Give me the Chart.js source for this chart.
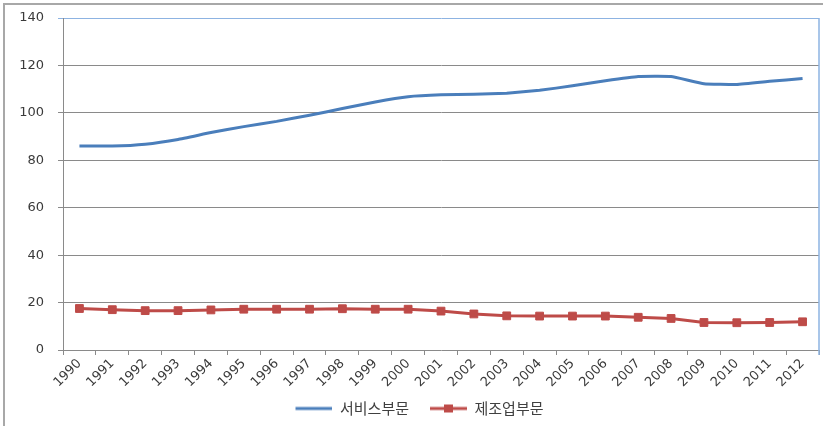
<!DOCTYPE html>
<html lang="ko">
<head>
<meta charset="utf-8">
<title>서비스부문 · 제조업부문</title>
<script src="https://cdn.jsdelivr.net/npm/chart.js@4/dist/chart.umd.min.js"></script>
<style>
  html, body { margin: 0; padding: 0; background: #ffffff; }
  #wrap { width: 832px; height: 426px; position: relative; }
</style>
</head>
<body>
<div id="wrap"><canvas id="chart" width="832" height="426"></canvas></div>
<script>
// Years on the horizontal axis
const years = ['1990', '1991', '1992', '1993', '1994', '1995', '1996', '1997', '1998', '1999', '2000',
               '2001', '2002', '2003', '2004', '2005', '2006', '2007', '2008', '2009', '2010', '2011', '2012'];

// Service sector
const serviceValues = [86, 86, 86.8, 88.8, 91.7, 94.2, 96.4, 99, 101.8, 104.6, 106.8,
                       107.6, 107.8, 108.3, 109.5, 111.4, 113.5, 115.3, 115.3, 112.3, 112, 113.3, 114.5];

// Manufacturing sector
const manufacturingValues = [17.5, 17, 16.6, 16.6, 16.9, 17.2, 17.2, 17.2, 17.4, 17.2, 17.2,
                             16.4, 15.2, 14.4, 14.3, 14.3, 14.3, 13.8, 13.3, 11.6, 11.5, 11.6, 11.9];

const seriesNames = ['서비스부문', '제조업부문'];
const yTicks = [0, 20, 40, 60, 80, 100, 120, 140];

const BLUE = '#4a7ebb';
const RED = '#be4b48';
const GRID = '#8a8a8a';
const TICK_FONT = { family: '"DejaVu Sans", Verdana, sans-serif', size: 13 };

// Small legend samples: a plain line, and a line with a square marker
function legendSample(color, withSquare) {
  const c = document.createElement('canvas');
  c.width = 52; c.height = 12;
  const g = c.getContext('2d');
  g.strokeStyle = color;
  g.lineWidth = 3;
  g.beginPath();
  g.moveTo(15, 6);
  g.lineTo(52, 6);
  g.stroke();
  if (withSquare) {
    g.fillStyle = color;
    g.fillRect(29, 2, 9, 8);
  }
  return c;
}
const legendImages = [legendSample(BLUE, false), legendSample(RED, true)];

// Outer frame and the blue plot edge on the right side
const framePlugin = {
  id: 'frame',
  beforeDraw(chart) {
    const ctx = chart.ctx;
    ctx.save();
    ctx.fillStyle = '#ffffff';
    ctx.fillRect(0, 0, chart.width, chart.height);
    ctx.strokeStyle = '#a8a8a8';
    ctx.lineWidth = 2;
    ctx.beginPath();
    ctx.moveTo(4, chart.height);
    ctx.lineTo(4, 4);
    ctx.lineTo(823, 4);
    ctx.stroke();
    ctx.restore();
  },
  afterDatasetsDraw(chart) {
    const a = chart.chartArea;
    const ctx = chart.ctx;
    ctx.save();
    ctx.strokeStyle = '#8db3e2';
    ctx.lineWidth = 1.5;
    ctx.beginPath();
    ctx.moveTo(a.right, a.top);
    ctx.lineTo(a.right, a.bottom + 5);
    ctx.stroke();
    ctx.restore();
  }
};

new Chart(document.getElementById('chart'), {
  type: 'line',
  data: {
    labels: years,
    datasets: [
      {
        label: seriesNames[0],
        data: serviceValues,
        borderColor: BLUE,
        backgroundColor: BLUE,
        borderWidth: 3,
        pointRadius: 0,
        tension: 0.1
      },
      {
        label: seriesNames[1],
        data: manufacturingValues,
        borderColor: RED,
        backgroundColor: RED,
        borderWidth: 3,
        pointStyle: 'rect',
        pointRadius: 5.5,
        pointBorderWidth: 1,
        pointBackgroundColor: RED,
        pointBorderColor: RED,
        tension: 0
      }
    ]
  },
  options: {
    responsive: false,
    animation: false,
    devicePixelRatio: 1,
    layout: { padding: { top: 18, right: 13, left: 5, bottom: 0 } },
    plugins: {
      legend: {
        position: 'bottom',
        labels: {
          usePointStyle: true,
          pointStyleWidth: 52,
          boxHeight: 12,
          padding: 6,
          color: '#404040',
          font: { family: '"Noto Sans CJK KR", "Noto Sans", sans-serif', size: 15 },
          generateLabels(chart) {
            return chart.data.datasets.map((ds, i) => ({
              text: ds.label,
              pointStyle: legendImages[i],
              fillStyle: ds.borderColor,
              strokeStyle: ds.borderColor,
              lineWidth: 0,
              hidden: false,
              datasetIndex: i,
              fontColor: '#404040'
            }));
          }
        }
      },
      tooltip: { enabled: false }
    },
    scales: {
      x: {
        type: 'category',
        offset: true,
        afterFit(scale) {
          scale.height = 45;
          scale.paddingLeft = 0;
          scale.paddingRight = 0;
        },
        grid: {
          offset: true,
          drawOnChartArea: false,
          drawTicks: true,
          tickLength: 5,
          color: GRID
        },
        border: { display: false },
        ticks: {
          autoSkip: false,
          maxRotation: 45,
          minRotation: 45,
          padding: 1,
          color: '#3a3a3a',
          font: TICK_FONT
        }
      },
      y: {
        min: 0,
        max: 140,
        afterFit(scale) {
          scale.width = 58;
          scale.paddingTop = 0;
          scale.paddingBottom = 0;
        },
        afterBuildTicks(scale) { scale.ticks = yTicks.map(v => ({ value: v })); },
        grid: {
          color: ctx => (ctx.tick && ctx.tick.value === 140 ? '#8db3e2' : GRID),
          lineWidth: 1,
          tickLength: 5
        },
        border: { display: true, color: GRID, width: 1 },
        ticks: {
          padding: 14,
          color: '#3a3a3a',
          font: TICK_FONT
        }
      }
    }
  },
  plugins: [framePlugin]
});
</script>
</body>
</html>
